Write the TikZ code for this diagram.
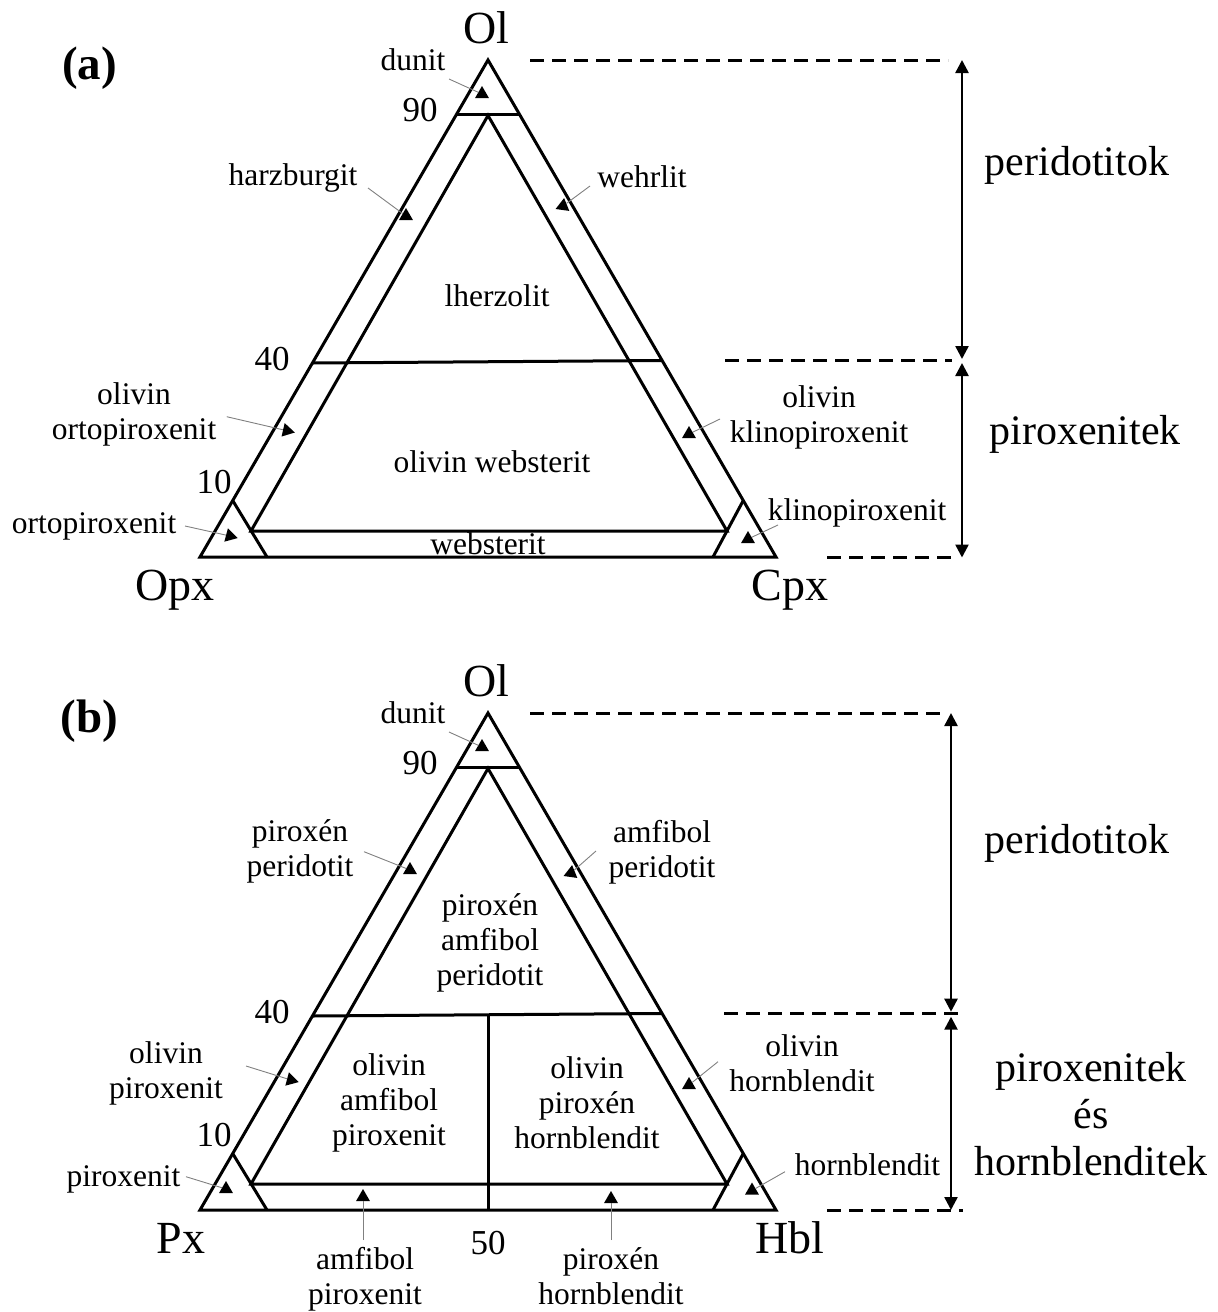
\documentclass[tikz,border=0pt]{standalone}
\usepackage{fontspec}
\setmainfont{Liberation Serif}
\usetikzlibrary{arrows.meta,shapes.geometric}
\begin{document}
\begin{tikzpicture}[x=1pt,y=-1pt,
  tri/.style={line width=3pt},
  lab/.style={inner sep=0pt,font=\fontsize{31.5}{35}\selectfont},
  mlab/.style={inner sep=0pt,align=center,font=\fontsize{31.5}{35}\selectfont},
  num/.style={inner sep=0pt,font=\fontsize{35}{40}\selectfont},
  corner/.style={inner sep=0pt,font=\fontsize{46}{50}\selectfont},
  big/.style={inner sep=0pt,align=center,font=\fontsize{42}{46.7}\selectfont},
  panel/.style={inner sep=0pt,font=\bfseries\fontsize{47}{50}\selectfont},
  mk/.style={regular polygon,regular polygon sides=3,fill=black,inner sep=0pt,minimum size=16pt},
  leader/.style={draw=black!50,line width=0.9pt},
  dashline/.style={line width=3pt,dash pattern=on 14pt off 8pt},
  spanarrow/.style={line width=2.5pt,{Triangle[length=13pt,width=13pt]}-{Triangle[length=13pt,width=13pt]}}
]
\useasboundingbox (0,0) rectangle (1218,1312);

% ================= (a) =================
\draw[tri] (488,60) -- (200,557) -- (776,557) -- cycle;
\draw[tri] (456.7,114) -- (519.3,114);
\draw[tri] (488,115.5) -- (251,531) -- (727,531) -- cycle;
\draw[tri] (233,501) -- (267,557);
\draw[tri] (743,501) -- (713,557);
\draw[tri] (312.5,363) -- (662,360.5);

\node[panel,anchor=base] (pa) at (89.5,79) {(a)};
\node[corner,anchor=base] (Olla) at (486,43.5) {Ol};
\node[lab,anchor=base] (dunita) at (413,70) {dunit};
\node[num,anchor=base] (n90a) at (420,121) {90};
\node[lab,anchor=base] (harz) at (293,185) {harzburgit};
\node[lab,anchor=base] (wehr) at (642,187) {wehrlit};
\node[lab,anchor=base] (lherz) at (497,306) {lherzolit};
\node[num,anchor=base] (n40a) at (272,370) {40};
\node[mlab] (oopx) at (134,414.5) {olivin\\ortopiroxenit};
\node[mlab] (ocpx) at (819,417.6) {olivin\\klinopiroxenit};
\node[lab,anchor=base] (owebs) at (492,472) {olivin websterit};
\node[num,anchor=base] (n10a) at (214,493) {10};
\node[lab,anchor=base] (opxl) at (94,533) {ortopiroxenit};
\node[corner,anchor=base] (Opxl) at (175,600) {Opx};
\node[lab,anchor=base] (webs) at (488,554) {websterit};
\node[lab,anchor=base] (cpxl) at (857,520) {klinopiroxenit};
\node[corner,anchor=base] (Cpxl) at (790,600) {Cpx};
\node[big,anchor=base] (perida) at (1077,175) {peridotitok};
\node[big,anchor=base] (piroxa) at (1085,444) {piroxenitek};

\node[mk] (mdua) at (482,94) {};
\node[mk] (mharz) at (406,216) {};
\node[mk,rotate=-8] (mwehr) at (563,206) {};
\node[mk,rotate=-103] (moopx) at (287,430.7) {};
\node[mk] (mocpx) at (689,434) {};
\node[mk,rotate=-105] (mopx) at (230,536) {};
\node[mk] (mcpx) at (748,539) {};

\coordinate (ldua) at (449,79);
\coordinate (lharz) at (368,188);
\coordinate (lwehr) at (590,186);
\coordinate (loopx) at (226.7,416.7);
\coordinate (locpx) at (720,419);
\coordinate (lopx) at (185,526);
\coordinate (lcpx) at (778,525);
\draw[leader] (ldua) -- (mdua);
\draw[leader] (lharz) -- (mharz);
\draw[leader] (lwehr) -- (mwehr);
\draw[leader] (loopx) -- (moopx);
\draw[leader] (locpx) -- (mocpx);
\draw[leader] (lopx) -- (mopx);
\draw[leader] (lcpx) -- (mcpx);

\coordinate (dTa1) at (530,60);    \coordinate (dTa2) at (948,60);
\coordinate (dMa1) at (725,360.7); \coordinate (dMa2) at (952,360.7);
\coordinate (dBa1) at (827,557);   \coordinate (dBa2) at (957,557);
\draw[dashline] (dTa1) -- (dTa2);
\draw[dashline] (dMa1) -- (dMa2);
\draw[dashline] (dBa1) -- (dBa2);
\coordinate (ra1) at (962,60);  \coordinate (ra2) at (962,359);
\coordinate (ra3) at (962,363); \coordinate (ra4) at (962,557.5);
\draw[spanarrow] (ra1) -- (ra2);
\draw[spanarrow] (ra3) -- (ra4);

% ================= (b) =================
\begin{scope}[shift={(0,653)}]
\draw[tri] (488,60) -- (200,557) -- (776,557) -- cycle;
\draw[tri] (456.7,114) -- (519.3,114);
\draw[tri] (488,115.5) -- (251,531) -- (727,531) -- cycle;
\draw[tri] (233,501) -- (267,557);
\draw[tri] (743,501) -- (713,557);
\draw[tri] (312.5,363) -- (662,360.5);
\draw[tri] (488,361.7) -- (488,557);

\node[panel,anchor=base] (pb) at (89.5,79) {(b)};
\node[corner,anchor=base] (Ollb) at (486,43.5) {Ol};
\node[lab,anchor=base] (dunitb) at (413,70) {dunit};
\node[num,anchor=base] (n90b) at (420,121) {90};
\node[mlab] (pxper) at (300,198) {piroxén\\peridotit};
\node[mlab] (amper) at (662,199) {amfibol\\peridotit};
\node[mlab] (pxamper) at (490,290) {piroxén\\amfibol\\peridotit};
\node[num,anchor=base] (n40b) at (272,370) {40};
\node[mlab] (olpx) at (166,420) {olivin\\piroxenit};
\node[mlab] (olampx) at (389,450) {olivin\\amfibol\\piroxenit};
\node[mlab] (olpxhb) at (587,450) {olivin\\piroxén\\hornblendit};
\node[mlab] (olhb) at (802,410.4) {olivin\\hornblendit};
\node[num,anchor=base] (n10b) at (214,493) {10};
\node[lab,anchor=base] (pxl) at (123.5,533) {piroxenit};
\node[corner,anchor=base] (Pxl) at (181,600) {Px};
\node[lab,anchor=base] (hbl) at (867.5,522) {hornblendit};
\node[corner,anchor=base] (Hbll) at (790,600) {Hbl};
\node[num,anchor=base] (n50) at (488,601) {50};
\node[mlab] (ampx) at (365,626) {amfibol\\piroxenit};
\node[mlab] (pxhb) at (611,623) {piroxén\\hornblendit};
\node[big,anchor=base] (peridb) at (1077,200) {peridotitok};
\node[big] (piroxb) at (1091,461) {piroxenitek\\és\\hornblenditek};

\node[mk] (mdub) at (482,94) {};
\node[mk] (mpxper) at (410,217) {};
\node[mk,rotate=-8] (mamper) at (571,220) {};
\node[mk,rotate=-105] (molpx) at (291,427) {};
\node[mk] (molhb) at (689,432) {};
\node[mk] (mpx) at (226,536) {};
\node[mk] (mhb) at (752,537.5) {};
\node[mk] (mampx) at (363,544) {};
\node[mk] (mpxhb) at (611,546) {};

\coordinate (ldub) at (449,79);
\coordinate (lpxper) at (364,198.7);
\coordinate (lamper) at (596,198);
\coordinate (lolpx) at (246,413);
\coordinate (lolhb) at (718,408.7);
\coordinate (lpx) at (186,523.7);
\coordinate (lhb) at (785,518.7);
\coordinate (lampx) at (363,587);
\coordinate (lpxhb) at (611,587);
\draw[leader] (ldub) -- (mdub);
\draw[leader] (lpxper) -- (mpxper);
\draw[leader] (lamper) -- (mamper);
\draw[leader] (lolpx) -- (molpx);
\draw[leader] (lolhb) -- (molhb);
\draw[leader] (lpx) -- (mpx);
\draw[leader] (lhb) -- (mhb);
\draw[leader] (lampx) -- (mampx);
\draw[leader] (lpxhb) -- (mpxhb);

\coordinate (dTb1) at (530,60);    \coordinate (dTb2) at (945,60);
\coordinate (dMb1) at (724,360.3); \coordinate (dMb2) at (960,360.3);
\coordinate (dBb1) at (827,557);   \coordinate (dBb2) at (963,557);
\draw[dashline] (dTb1) -- (dTb2);
\draw[dashline] (dMb1) -- (dMb2);
\draw[dashline] (dBb1) -- (dBb2);
\coordinate (rb1) at (951,60);    \coordinate (rb2) at (951,358.7);
\coordinate (rb3) at (951,363.7); \coordinate (rb4) at (951,557);
\draw[spanarrow] (rb1) -- (rb2);
\draw[spanarrow] (rb3) -- (rb4);
\end{scope}
\end{tikzpicture}
\end{document}
